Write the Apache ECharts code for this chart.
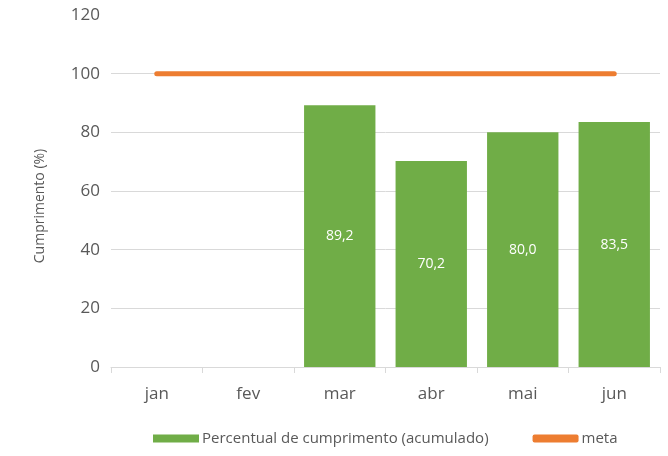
<!DOCTYPE html>
<html>
<head>
<meta charset="utf-8">
<script src="https://cdn.jsdelivr.net/npm/echarts@6/dist/echarts.min.js"></script>
<style>
  html, body { margin: 0; padding: 0; background: #fff; }
  #chart { width: 668px; height: 456px; }
</style>
</head>
<body>
<div id="chart"></div>
<script>
const months = ['jan', 'fev', 'mar', 'abr', 'mai', 'jun']
const cumprimento = [null, null, 89.2, 70.2, 80.0, 83.5]
const meta = [100, 100, 100, 100, 100, 100]
const yTicks = { min: 0, max: 120, step: 20 }

const font = '"Open Sans", sans-serif'
const textColor = '#595959'

let myChart = echarts.init(document.getElementById('chart'), null, { renderer: 'canvas' })
let option = {
  animation: false,
  textStyle: { fontFamily: font },
  grid: {
    left: 111,
    right: 8,
    top: 15,
    bottom: 89
  },
  legend: {
    bottom: 5,
    left: 148,
    itemWidth: 46,
    itemHeight: 8,
    itemGap: 44,
    textStyle: { color: textColor, fontSize: 15, fontFamily: font, padding: [0, 0, 0, -2] },
    data: [
      { name: 'Percentual de cumprimento (acumulado)', icon: 'rect' },
      { name: 'meta', icon: 'roundRect', itemStyle: { color: '#ed7d31' } }
    ]
  },
  xAxis: {
    type: 'category',
    data: months,
    axisLine: { show: true, lineStyle: { color: '#d9d9d9', width: 1 } },
    axisTick: { show: true, length: 6, lineStyle: { color: '#d9d9d9' } },
    axisLabel: { color: textColor, fontSize: 17, margin: 19, fontFamily: font }
  },
  yAxis: {
    type: 'value',
    min: yTicks.min,
    max: yTicks.max,
    interval: yTicks.step,
    name: 'Cumprimento (%)',
    nameLocation: 'middle',
    nameGap: 64,
    nameRotate: 90,
    nameTextStyle: { color: textColor, fontSize: 14, fontFamily: font, padding: [0, 30, 0, 0] },
    axisLine: { show: false },
    axisTick: { show: false },
    axisLabel: { color: textColor, fontSize: 17, margin: 11, fontFamily: font },
    splitLine: { show: true, showMaxLine: false, lineStyle: { color: '#d9d9d9', width: 1 } }
  },
  series: [
    {
      name: 'Percentual de cumprimento (acumulado)',
      type: 'bar',
      data: cumprimento,
      barWidth: '78%',
      itemStyle: { color: '#70ad47' },
      label: {
        show: true,
        position: 'inside',
        color: '#ffffff',
        fontSize: 14,
        fontFamily: font,
        formatter: p => p.value.toFixed(1).replace('.', ',')
      }
    },
    {
      name: 'meta',
      type: 'line',
      data: meta,
      symbol: 'none',
      lineStyle: { color: '#ed7d31', width: 5, cap: 'round' },
      itemStyle: { color: '#ed7d31' }
    }
  ]
}
myChart.setOption(option)
</script>
</body>
</html>
